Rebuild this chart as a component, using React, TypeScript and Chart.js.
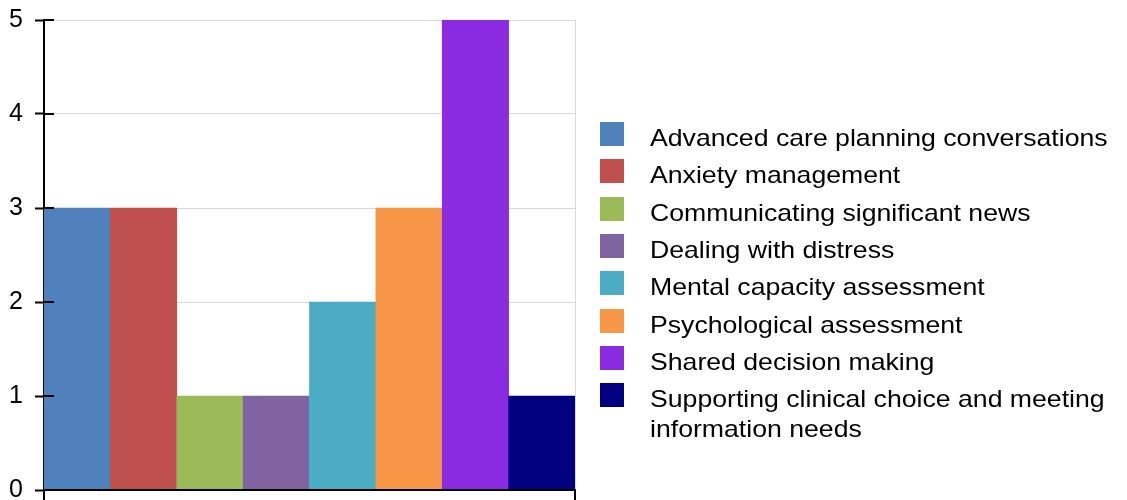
import React, { useEffect, useRef } from "react";
import { Chart, registerables } from "chart.js";

Chart.register(...registerables);

const categories = [
  "Advanced care planning conversations",
  "Anxiety management",
  "Communicating significant news",
  "Dealing with distress",
  "Mental capacity assessment",
  "Psychological assessment",
  "Shared decision making",
  "Supporting clinical choice and meeting information needs",
];
const counts = [3, 3, 1, 1, 2, 3, 5, 1];
const barColors = [
  "#4f81bd",
  "#c0504d",
  "#9bbb59",
  "#8064a2",
  "#4bacc6",
  "#f79646",
  "#8a2be2",
  "#000080",
];
const yTicks = [0, 1, 2, 3, 4, 5];

const FONT = "'Liberation Sans', Arial, sans-serif";

const framePlugin = {
  id: "framePlugin",
  beforeDatasetsDraw(chart: any) {
    const { ctx, chartArea } = chart;
    ctx.save();
    ctx.strokeStyle = "#d9d9d9";
    ctx.lineWidth = 1;
    ctx.beginPath();
    ctx.moveTo(chartArea.right + 0.5, chartArea.top);
    ctx.lineTo(chartArea.right + 0.5, chartArea.bottom);
    ctx.stroke();
    ctx.restore();
  },
  afterDraw(chart: any) {
    const { ctx, chartArea, scales } = chart;
    const y = scales.y;
    ctx.save();
    ctx.strokeStyle = "#000";
    ctx.lineWidth = 2;
    // inner halves of the y ticks
    yTicks.forEach((v) => {
      const py = Math.round(y.getPixelForValue(v));
      ctx.beginPath();
      ctx.moveTo(chartArea.left, py);
      ctx.lineTo(chartArea.left + 10, py);
      ctx.stroke();
    });
    // x axis line and end ticks
    const by = Math.round(chartArea.bottom);
    ctx.beginPath();
    ctx.moveTo(chartArea.left - 1, by);
    ctx.lineTo(chartArea.right + 1, by);
    ctx.stroke();
    ctx.beginPath();
    ctx.moveTo(chartArea.left, by);
    ctx.lineTo(chartArea.left, by + 12);
    ctx.moveTo(chartArea.right, by);
    ctx.lineTo(chartArea.right, by + 12);
    ctx.stroke();
    ctx.restore();

    // legend
    const boxX = 600;
    const boxSize = 24;
    const textX = 650;
    const firstCenter = 134;
    const rowStep = 37.3;
    const lineStep = 30;
    const sx = 1.11;
    ctx.save();
    ctx.font = `24px ${FONT}`;
    ctx.textBaseline = "alphabetic";
    ctx.textAlign = "left";
    let extra = 0;
    categories.forEach((label, i) => {
      const cy = firstCenter + i * rowStep + extra;
      ctx.fillStyle = barColors[i];
      ctx.fillRect(boxX, Math.round(cy - boxSize / 2), boxSize, boxSize);
      const words = label.split(" ");
      const lines: string[] = [];
      let cur = "";
      words.forEach((w) => {
        const test = cur ? cur + " " + w : w;
        if (ctx.measureText(test).width * sx > 470 && cur) {
          lines.push(cur);
          cur = w;
        } else cur = test;
      });
      if (cur) lines.push(cur);
      ctx.fillStyle = "#000";
      lines.forEach((ln, j) => {
        const baseY = cy + boxSize / 2 + j * lineStep;
        ctx.save();
        ctx.translate(textX, baseY);
        ctx.scale(sx, 1);
        ctx.fillText(ln, 0, 0);
        ctx.restore();
      });
      extra += (lines.length - 1) * lineStep;
    });
    ctx.restore();
  },
};

export default function App() {
  const ref = useRef<HTMLCanvasElement | null>(null);
  useEffect(() => {
    if (!ref.current) return;
    const chart = new Chart(ref.current, {
      type: "bar",
      data: {
        labels: categories,
        datasets: [
          {
            data: counts,
            backgroundColor: barColors,
            borderWidth: 0,
            categoryPercentage: 1,
            barPercentage: 1,
          },
        ],
      },
      options: {
        animation: false,
        responsive: false,
        devicePixelRatio: 1,
        layout: { padding: { top: 20, right: 552, bottom: 10, left: 0 } },
        plugins: { legend: { display: false }, tooltip: { enabled: false } },
        scales: {
          x: { display: false },
          y: {
            min: 0,
            max: 5,
            afterFit: (scale: any) => {
              scale.width = 44;
              scale.paddingTop = 0;
              scale.paddingBottom = 0;
            },
            ticks: {
              stepSize: 1,
              color: "#000",
              padding: 12,
              font: { family: FONT, size: 25 },
            },
            grid: {
              color: "#d9d9d9",
              lineWidth: 1,
              tickColor: "#000",
              tickLength: 9,
              tickWidth: 2,
            },
            border: { color: "#000", width: 2 },
          },
        },
      },
      plugins: [framePlugin],
    });
    return () => chart.destroy();
  }, []);
  return (
    <div style={{ position: "fixed", left: 0, top: 0, width: 1127, height: 500, background: "#fff" }}>
      <canvas ref={ref} width={1127} height={500} style={{ display: "block" }} />
    </div>
  );
}
